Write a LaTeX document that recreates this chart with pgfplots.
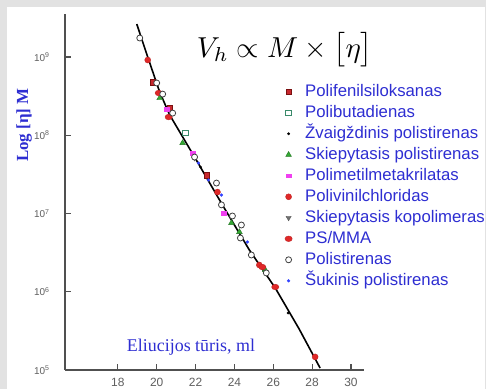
\documentclass[border=0pt]{standalone}
\usepackage{fontspec}
\setmainfont{Liberation Sans}
\newfontfamily\seriffont{Liberation Serif}
\usepackage{graphicx}
\usepackage{pgfplots}
\pgfplotsset{compat=1.18}
\definecolor{bg}{HTML}{E2E2E2}
\definecolor{lblue}{HTML}{2E2ED2}
\definecolor{axgray}{HTML}{505050}
\definecolor{tickgray}{HTML}{606060}
\definecolor{sqred}{HTML}{C8282E}
\definecolor{sqredd}{HTML}{7A1010}
\definecolor{pbgreen}{HTML}{3A8A6A}
\definecolor{trgreen}{HTML}{33AA33}
\definecolor{pmmamag}{HTML}{F040F0}
\definecolor{pvcred}{HTML}{E02828}
\definecolor{kopgray}{HTML}{707070}
\definecolor{sukblue}{HTML}{3344FF}
\begin{document}
\begin{tikzpicture}
\fill[bg] (0,0) rectangle (486bp,389bp);
\fill[white] (7bp,0) rectangle (485bp,382bp);
\begin{axis}[
  at={(65bp,19bp)}, anchor=south west,
  scale only axis, width=299bp, height=356bp,
  xmin=15.28, xmax=30.67,
  ymode=log, ymin=1e5, ymax=3.55e9,
  axis x line*=bottom, axis y line*=left,
  axis line style={-, draw=axgray, line width=1.2bp},
  xtick={18,20,22,24,26,28,30},
  ytick={1e5,1e6,1e7,1e8,1e9},
  yticklabels={10\textsuperscript{5},10\textsuperscript{6},10\textsuperscript{7},10\textsuperscript{8},10\textsuperscript{9}},
  yminorticks=false,
  tick align=inside, major tick length=6bp,
  tick style={draw=axgray, line width=1.2bp},
  /pgf/number format/assume math mode=true,
  xticklabel style={font=\fontsize{12}{12}\selectfont, text=tickgray, yshift=-5bp},
  yticklabel style={font=\fontsize{10}{10}\selectfont, text=tickgray, xshift=-12bp},
  clip=false,
  legend cell align=left,
  legend image code/.code={\draw[#1] plot coordinates {(0bp,0bp)};},
  legend style={draw=none, fill=none, inner sep=0pt,
    at={(axis description cs:0.735,0.808)}, anchor=north west,
    font=\fontsize{16.8}{17}\selectfont, text=lblue,
    nodes={inner sep=1bp, text height=12.5bp, text depth=4bp},
    row sep=2.5bp,
    /tikz/every odd column/.append style={column sep=12bp}},
]
% calibration line
\addplot[black, line width=1.6bp, forget plot] coordinates {
 (18.974,2.64e9) (19.538,1.0e9) (20.154,3.57e8) (20.667,1.82e8)
 (21.949,5.27e7) (23.385,1.285e7) (24.769,3.42e6) (26.103,1.117e6)
 (27.333,3.34e5) (28.410,1.06e5)};
% Polifenilsiloksanas
\addplot[only marks, mark=square*, mark size=2.8bp, mark options={draw=sqredd, fill=sqred}] coordinates {
 (19.795,4.8e8) (20.667,2.23e8) (22.564,3.1e7)};
\addlegendentry{Polifenilsiloksanas}
% Polibutadienas
\addplot[only marks, mark=square*, mark size=2.8bp, mark options={draw=pbgreen, fill=white, line width=0.9bp}] coordinates {
 (21.487,1.07e8)};
\addlegendentry{Polibutadienas}
% Zvaigzdinis polistirenas
\addplot[only marks, mark=*, mark size=1.2bp, mark options={draw=black, fill=black}] coordinates {
 (22.256,3.93e7) (26.769,5.35e5)};
\addlegendentry{Žvaigždinis polistirenas}
% Skiepytasis polistirenas
\addplot[only marks, mark=triangle*, mark size=3.3bp, mark options={draw=trgreen!70!black, fill=trgreen}] coordinates {
 (20.154,2.99e8) (21.333,7.96e7) (23.846,7.57e6) (24.256,5.81e6) (25.590,1.90e6)};
\addlegendentry{Skiepytasis polistirenas}
% PMMA
\addplot[only marks, mark=square*, mark size=1.7bp, mark options={draw=pmmamag, fill=pmmamag, xscale=1.4}] coordinates {
 (20.513,2.16e8) (21.846,5.93e7) (23.436,1.01e7)};
\addlegendentry{Polimetilmetakrilatas}
% PVC
\addplot[only marks, mark=*, mark size=3bp, mark options={draw=pvcred!85!black, fill=pvcred}] coordinates {
 (19.538,9.16e8) (23.128,1.88e7) (25.282,2.20e6) (28.154,1.47e5)};
\addlegendentry{Polivinilchloridas}
% Skiepytasis kopolimeras
\addplot[only marks, mark=triangle*, mark size=3bp, mark options={draw=kopgray!80!black, fill=kopgray, rotate=180}] coordinates {
 (21.949,5.12e7)};
\addlegendentry{Skiepytasis kopolimeras}
% PS/MMA
\addplot[only marks, mark=*, mark size=2.8bp, mark options={draw=pvcred!85!black, fill=pvcred, xscale=1.3}] coordinates {
 (20.103,3.47e8) (20.615,1.71e8) (25.436,2.07e6) (26.103,1.15e6)};
\addlegendentry{PS/MMA}
% Polistirenas
\addplot[only marks, mark=*, mark size=3bp, mark options={draw=black!75, fill=white, line width=0.8bp}] coordinates {
 (19.128,1.75e9) (20.0,4.66e8) (20.308,3.36e8) (20.821,1.92e8) (21.949,5.27e7)
 (23.077,2.45e7) (23.333,1.29e7) (23.897,9.3e6) (24.359,7.13e6) (24.308,4.86e6)
 (24.872,2.95e6) (25.641,1.74e6)};
\addlegendentry{Polistirenas}
% Sukinis polistirenas
\addplot[only marks, mark=*, mark size=1.4bp, mark options={draw=sukblue, fill=sukblue}] coordinates {
 (22.154,4.42e7) (22.667,2.68e7) (23.333,1.72e7) (24.667,4.33e6)};
\addlegendentry{Šukinis polistirenas}
\end{axis}
% texts
\node[text=lblue, font=\seriffont\bfseries\fontsize{17}{17}\selectfont, rotate=90] at (24bp,264bp) {Log [η] M};
\node[text=lblue, font=\seriffont\fontsize{18}{18}\selectfont] at (191bp,42bp) {Eliucijos tūris, ml};
\node[inner sep=0pt] at (285bp,339bp) {\resizebox{176bp}{!}{$V_h \propto M \times \left[\rule[-0.3em]{0pt}{1.15em}\eta\right]$}};
\pgfresetboundingbox
\path[use as bounding box] (0,0) rectangle (486bp,389bp);
\end{tikzpicture}
\end{document}
